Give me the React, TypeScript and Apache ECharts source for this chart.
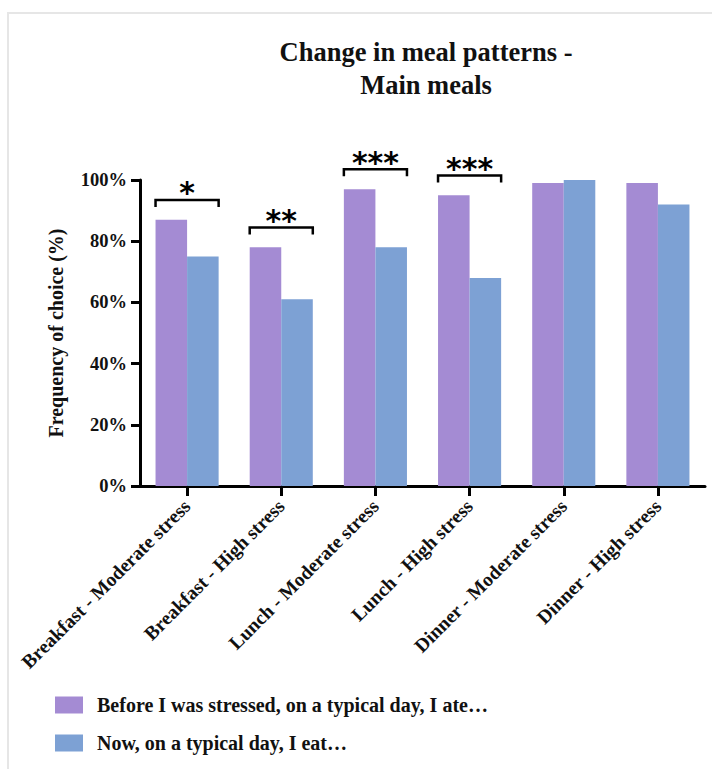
import React, { useEffect, useRef } from "react";
import * as echarts from "echarts";

// Meal occasions by stress level
const categories = [
  "Breakfast - Moderate stress",
  "Breakfast - High stress",
  "Lunch - Moderate stress",
  "Lunch - High stress",
  "Dinner - Moderate stress",
  "Dinner - High stress",
];

// Frequency of choice (%)
const beforeStress = [87, 78, 97, 95, 99, 99];
const nowValues = [75, 61, 78, 68, 100, 92];

// Significance markers (category index -> stars)
const significantIdx = [0, 1, 2, 3];
const significanceMarks = ["*", "**", "***", "***"];

const yTicks = [0, 20, 40, 60, 80, 100];

const seriesNames = [
  "Before I was stressed, on a typical day, I ate…",
  "Now, on a typical day, I eat…",
];

const PURPLE = "#a48bd3";
const BLUE = "#7da1d4";
const SERIF = "'Liberation Serif', 'Times New Roman', serif";

export default function App() {
  const ref = useRef<HTMLDivElement>(null);

  useEffect(() => {
    if (!ref.current) return;
    const chart = echarts.init(ref.current, null, { renderer: "svg" });

    const bracketData = significantIdx.map((i) => [
      i,
      Math.max(beforeStress[i], nowValues[i]) + 6.5,
    ]);

    chart.setOption({
      animation: false,
      backgroundColor: "#ffffff",
      title: {
        text: "Change in meal patterns -\nMain meals",
        left: 421,
        top: 30,
        textAlign: "center",
        textStyle: {
          fontFamily: SERIF,
          fontWeight: "bold",
          fontSize: 26.5,
          lineHeight: 33,
          color: "#111",
        },
      },
      legend: {
        orient: "vertical",
        left: 55,
        top: 695,
        padding: 0,
        itemWidth: 28,
        itemHeight: 17,
        itemGap: 18,
        icon: "rect",
        data: seriesNames,
        textStyle: {
          fontFamily: SERIF,
          fontWeight: "bold",
          fontSize: 20,
          color: "#111",
          padding: [0, 0, 0, 9],
        },
      },
      grid: {
        left: 140,
        right: 7,
        top: 180,
        bottom: 283,
        containLabel: false,
      },
      xAxis: {
        type: "category",
        data: categories,
        axisLine: { show: true, lineStyle: { color: "#000", width: 3 } },
        axisTick: {
          show: true,
          alignWithLabel: true,
          length: 10,
          lineStyle: { color: "#000", width: 3 },
        },
        axisLabel: {
          interval: 0,
          rotate: 45,
          margin: 17,
          fontFamily: SERIF,
          fontWeight: "bold",
          fontSize: 19.5,
          color: "#111",
        },
        splitLine: { show: false },
      },
      yAxis: {
        type: "value",
        min: 0,
        max: 100,
        interval: 20,
        name: "Frequency of choice (%)",
        nameLocation: "middle",
        nameGap: 74,
        nameRotate: 90,
        nameTextStyle: {
          fontFamily: SERIF,
          fontWeight: "bold",
          fontSize: 20,
          color: "#111",
        },
        axisLine: { show: true, lineStyle: { color: "#000", width: 3 } },
        axisTick: {
          show: true,
          length: 9,
          lineStyle: { color: "#000", width: 3 },
        },
        axisLabel: {
          margin: 13,
          formatter: (v: number) => (yTicks.includes(v) ? `${v}%` : ""),
          fontFamily: SERIF,
          fontWeight: "bold",
          fontSize: 18.5,
          color: "#111",
        },
        splitLine: { show: false },
      },
      series: [
        {
          name: seriesNames[0],
          type: "bar",
          data: beforeStress,
          barGap: "0%",
          barCategoryGap: "33%",
          itemStyle: { color: PURPLE },
        },
        {
          name: seriesNames[1],
          type: "bar",
          data: nowValues,
          barGap: "0%",
          barCategoryGap: "33%",
          itemStyle: { color: BLUE },
        },
        {
          type: "custom",
          name: "significance",
          clip: false,
          silent: true,
          data: bracketData,
          encode: { x: 0, y: 1 },
          renderItem: (params: any, api: any) => {
            const idx = api.value(0);
            const lvl = api.value(1);
            const p = api.coord([idx, lvl]);
            const band = api.size([1, 0])[0];
            const half = band * 0.335;
            const leg = 7;
            return {
              type: "group",
              children: [
                {
                  type: "polyline",
                  shape: {
                    points: [
                      [p[0] - half, p[1] + leg],
                      [p[0] - half, p[1]],
                      [p[0] + half, p[1]],
                      [p[0] + half, p[1] + leg],
                    ],
                  },
                  style: { stroke: "#000", lineWidth: 2.5, fill: null },
                },
                {
                  type: "text",
                  x: p[0],
                  y: p[1] + 8,
                  style: {
                    text: significanceMarks[params.dataIndex],
                    font: "bold 30px 'DejaVu Sans'",
                    textAlign: "center",
                    textVerticalAlign: "bottom",
                    fill: "#000",
                  },
                },
              ],
            };
          },
        },
      ],
      graphic: [
        {
          type: "rect",
          left: 7,
          top: 12,
          shape: { width: 2, height: 757 },
          style: { fill: "#e6e6e6" },
          silent: true,
        },
        {
          type: "rect",
          left: 7,
          top: 12,
          shape: { width: 705, height: 2 },
          style: { fill: "#e6e6e6" },
          silent: true,
        },
      ],
    });

    return () => chart.dispose();
  }, []);

  return (
    <div
      ref={ref}
      style={{ position: "absolute", left: 0, top: 0, width: 712, height: 769 }}
    />
  );
}
